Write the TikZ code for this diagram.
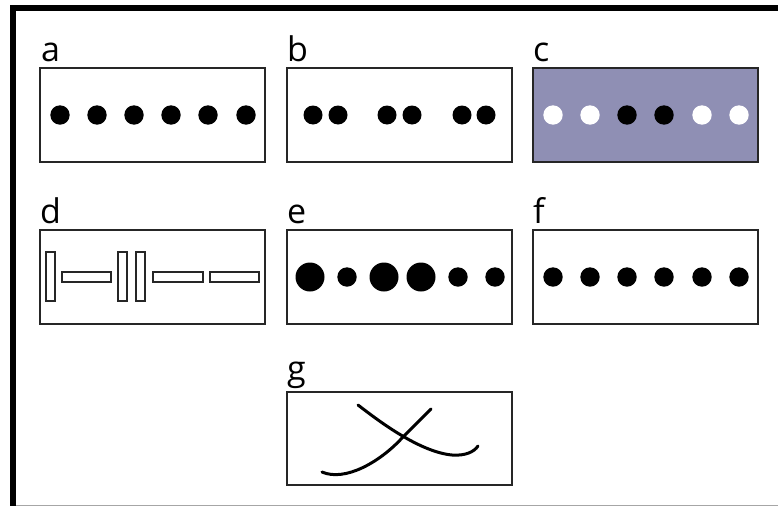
\documentclass[tikz,border=0pt]{standalone}
\usepackage{fontspec}
\setmainfont{Open Sans}
\definecolor{lav}{HTML}{8F8FB4}
\begin{document}
\begin{tikzpicture}[x=1pt,y=-1pt,
  panel/.style={draw=black!85,line width=2.5pt},
  lbl/.style={anchor=base west,inner sep=0pt,font=\fontsize{34}{34}\selectfont},
  dot/.style={fill=black},
  wdot/.style={fill=white},
  bar/.style={draw=black!85,line width=2pt,fill=white},
  crv/.style={line width=3pt,line cap=round}]
\useasboundingbox (0,0) rectangle (778,506);
\fill[white] (0,0) rectangle (778,506);
% frame
\draw[line width=6pt] (10,8) -- (778,8);
\draw[line width=6pt] (13,5) -- (13,506);
\draw[gray!70,line width=1pt] (16,505.5) -- (778,505.5);
% panels
\node[lbl] (la) at (41,61) {a};
\draw[panel] (40,68) rectangle (265,162);
\foreach \x in {60,97,134,171,208,246} \fill[dot] (\x,115) circle (9.7);
\node[lbl] (lb) at (287,61) {b};
\draw[panel] (287,68) rectangle (512,162);
\foreach \x in {313,338,387,412,462,486} \fill[dot] (\x,115) circle (9.5);
\node[lbl] (lc) at (533,61) {c};
\draw[panel,fill=lav] (533,68) rectangle (758,162);
\foreach \x in {553,590,702,739} \fill[wdot] (\x,115) circle (9.7);
\foreach \x in {627,664} \fill[dot] (\x,115) circle (9.7);
\node[lbl] (ld) at (40,223) {d};
\draw[panel] (40,230) rectangle (265,324);
\draw[bar] (46,252) rectangle (55,301);
\draw[bar] (118,252) rectangle (127,301);
\draw[bar] (136,252) rectangle (145,301);
\draw[bar] (62,272) rectangle (111,282);
\draw[bar] (153,272) rectangle (203,282);
\draw[bar] (210,272) rectangle (259,282);
\node[lbl] (le) at (287,223) {e};
\draw[panel] (287,230) rectangle (512,324);
\foreach \x/\r in {310/14.5,347/9.7,384/14.5,421/14.5,458/9.7,495/9.7} \fill[dot] (\x,277) circle (\r);
\node[lbl] (lf) at (533,223) {f};
\draw[panel] (533,230) rectangle (758,324);
\foreach \x in {553,590,627,664,702,739} \fill[dot] (\x,277) circle (9.7);
\node[lbl] (lg) at (287,380) {g};
\draw[panel] (287,392) rectangle (512,485);
\draw[crv] (358,405) .. controls (380,422) and (420,452) .. (452,455) .. controls (465,456) and (474,452) .. (478,446);
\draw[crv] (322,472) .. controls (345,482) and (380,462) .. (402,438) .. controls (412,428) and (422,418) .. (431,409);
\end{tikzpicture}
\end{document}
